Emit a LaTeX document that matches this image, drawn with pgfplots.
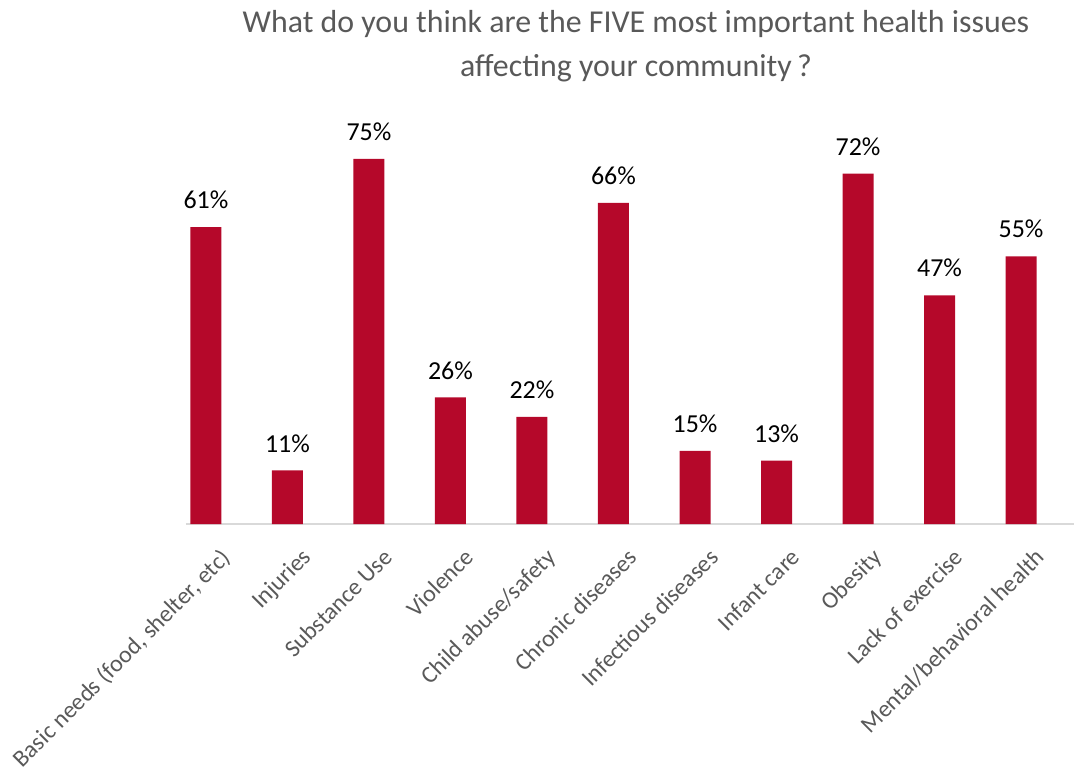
\documentclass[border=0pt]{standalone}
\usepackage{pgfplots}
\pgfplotsset{compat=1.18}
\usepackage{fontspec}
\setmainfont{Carlito}
\definecolor{barred}{HTML}{B5082A}
\definecolor{titlegray}{HTML}{595959}
\definecolor{axisgray}{HTML}{D9D9D9}
\begin{document}
\begin{tikzpicture}
\begin{axis}[
  name=ax,
  scale only axis,
  width=888bp, height=486.7bp,
  xmin=-0.245, xmax=10.65,
  ymin=0, ymax=100,
  axis x line*=bottom,
  axis y line=none,
  x axis line style={axisgray, line width=1.5bp, -},
  ytick=\empty,
  xtick=data,
  xticklabels={{Basic needs (food, shelter, etc)},Injuries,Substance Use,Violence,{Child abuse/safety},Chronic diseases,Infectious diseases,Infant care,Obesity,Lack of exercise,Mental/behavioral health},
  major tick length=0pt,
  xtick style={draw=none},
  xticklabel style={xshift=13bp, yshift=-23bp, rotate=45, anchor=north east, inner sep=0pt, font=\fontsize{24}{28}\selectfont, text=titlegray},
  ybar, bar width=31bp,
  nodes near coords={\pgfmathprintnumber{\pgfplotspointmeta}\%},
  nodes near coords style={/pgf/number format/assume math mode=true, font=\fontsize{26}{30}\selectfont, text=black, anchor=south, inner sep=0pt, yshift=18bp},
]
\addplot[fill=barred, draw=none] coordinates {
  (0,61) (1,11) (2,75) (3,26) (4,22) (5,66) (6,15) (7,13) (8,72) (9,47) (10,55)
};
\end{axis}
\node[anchor=north, align=center, inner sep=0pt, text=titlegray, font=\fontsize{32}{44}\selectfont]
  at ([shift={(450bp,514bp)}]ax.south west)
  {What do you think are the FIVE most important health issues\\affecting your community\,?};
\pgfresetboundingbox
\path[use as bounding box] ([shift={(-186bp,-245bp)}]ax.south west) rectangle ([shift={(888bp,524bp)}]ax.south west);
\end{tikzpicture}
\end{document}
